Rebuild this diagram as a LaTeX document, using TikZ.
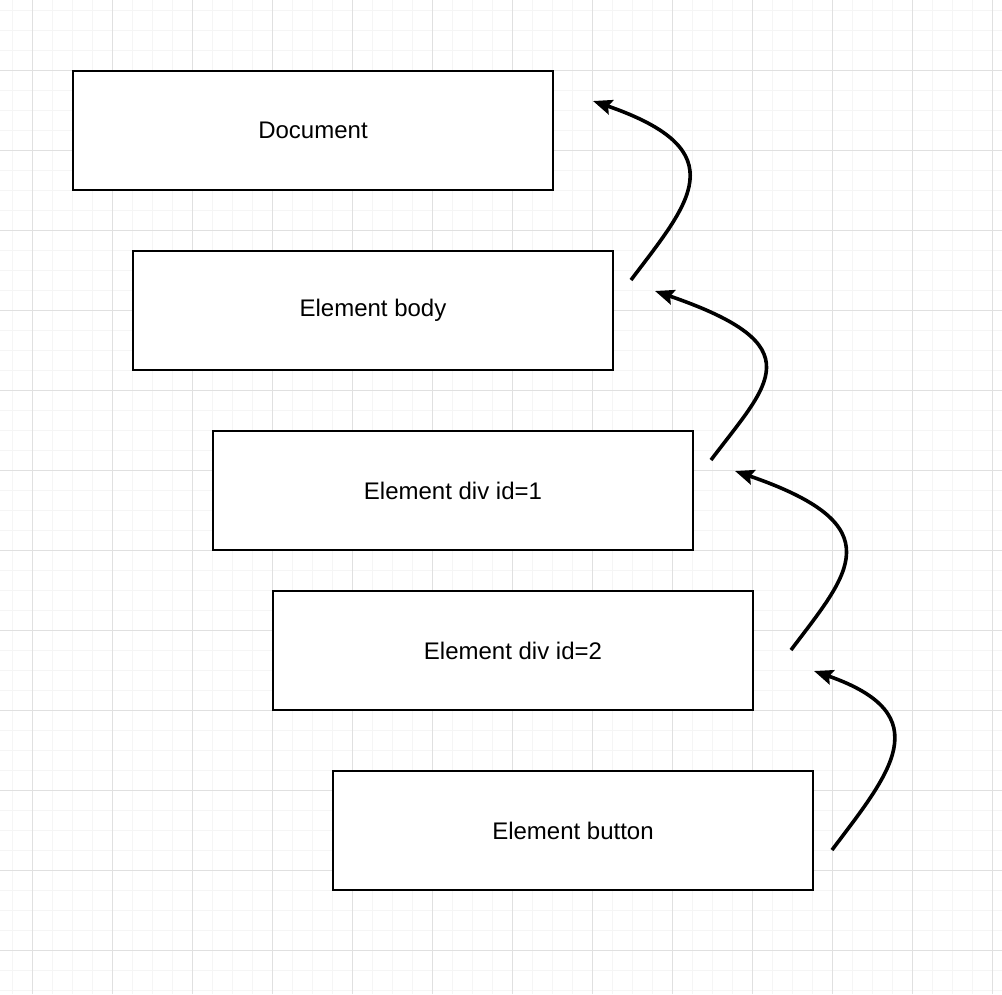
\documentclass[tikz,border=0pt]{standalone}
\usepackage{fontspec}
\setmainfont{Liberation Sans}
\usetikzlibrary{arrows.meta}
\definecolor{minorgrid}{HTML}{F5F5F5}
\definecolor{majorgrid}{HTML}{E0E0E0}
\begin{document}
\begin{tikzpicture}[x=1pt,y=-1pt,
  box/.style={draw=black,line width=1.5pt,fill=white,minimum width=480pt,minimum height=119pt,inner sep=0pt,font=\fontsize{24}{28}\selectfont},
  bubble/.style={line width=3.6pt,-{Stealth[length=19pt,width=15pt,inset=3pt]}},
  minorline/.style={draw=minorgrid,line width=1pt},
  majorline/.style={draw=majorgrid,line width=1pt}]
\fill[white] (0,0) rectangle (1002,994);
\useasboundingbox (0,0) rectangle (1002,994);
\foreach \x in {12,32,...,992} \draw[minorline] (\x,0) -- (\x,994);
\foreach \y in {10,30,...,990} \draw[minorline] (0,\y) -- (1002,\y);
\foreach \x in {32,112,...,992} \draw[majorline] (\x,0) -- (\x,994);
\foreach \y in {70,150,...,950} \draw[majorline] (0,\y) -- (1002,\y);

\node[box] (doc) at (313,130.5) {\raisebox{-1.5pt}{Document}};
\node[box] (body) at (373,310.5) {\raisebox{-1.5pt}{Element body}};
\node[box] (div1) at (453,490.5) {\raisebox{-1.5pt}{Element div id=1}};
\node[box] (div2) at (513,650.5) {\raisebox{-1.5pt}{Element div id=2}};
\node[box] (btn) at (573,830.5) {\raisebox{-1.5pt}{Element button}};

\coordinate (s1) at (631,280); \coordinate (e1) at (593,101);
\coordinate (s2) at (711,460); \coordinate (e2) at (655,291);
\coordinate (s3) at (791,650); \coordinate (e3) at (735,471);
\coordinate (s4) at (832,850); \coordinate (e4) at (814,671);

\foreach \i/\bx/\by in {1/145/50, 2/160/55, 3/160/55, 4/126/44}
  \draw[bubble] (s\i) .. controls +(58,-77) and +(\bx,\by) .. (e\i);
\end{tikzpicture}
\end{document}
